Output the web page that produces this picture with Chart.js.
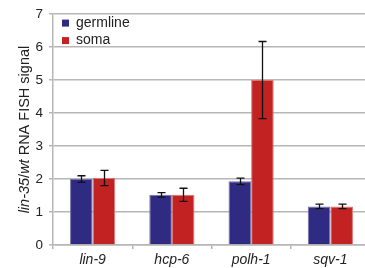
<!DOCTYPE html>
<html>
<head>
<meta charset="utf-8">
<script src="https://cdn.jsdelivr.net/npm/chart.js@4"></script>
<style>
  html, body { margin: 0; padding: 0; background: #fff; overflow: hidden; }
  #wrap { width: 370px; height: 268px; }
</style>
</head>
<body>
<div id="wrap"><canvas id="chart" width="370" height="268"></canvas></div>
<script>
// values
const genes = ['lin-9', 'hcp-6', 'polh-1', 'sqv-1'];
const germline = [2.0, 1.52, 1.93, 1.17];
const germlineErr = [0.1, 0.07, 0.1, 0.07];
const soma = [2.03, 1.52, 5.0, 1.17];
const somaErr = [0.23, 0.2, 1.17, 0.07];
const yTicks = [0, 1, 2, 3, 4, 5, 6, 7];

const BLUE = '#302b82';
const RED = '#c22322';
const GRID = '#b6b6b6';
const FONT = '"Liberation Sans", Arial, sans-serif';

// error bars drawn on top of each bar
const errorBars = {
  id: 'errorBars',
  afterDatasetsDraw(chart) {
    const { ctx } = chart;
    const y = chart.scales.y;
    const errs = [germlineErr, somaErr];
    ctx.save();
    ctx.strokeStyle = '#111';
    ctx.lineWidth = 1.3;
    chart.data.datasets.forEach((ds, di) => {
      chart.getDatasetMeta(di).data.forEach((bar, i) => {
        const v = ds.data[i], e = errs[di][i];
        const top = y.getPixelForValue(v + e);
        const bot = y.getPixelForValue(v - e);
        const x = Math.round(bar.x) + 0.5;
        ctx.beginPath();
        ctx.moveTo(x, top); ctx.lineTo(x, bot);
        ctx.moveTo(x - 4, top); ctx.lineTo(x + 4, top);
        ctx.moveTo(x - 4, bot); ctx.lineTo(x + 4, bot);
        ctx.stroke();
      });
    });
    ctx.restore();
  }
};

// legend inside plot, top-left
const innerLegend = {
  id: 'innerLegend',
  afterDraw(chart) {
    const { ctx, chartArea } = chart;
    ctx.save();
    ctx.font = '14px ' + FONT;
    ctx.textBaseline = 'middle';
    chart.data.datasets.forEach((ds, i) => {
      const cy = chartArea.top + 9 + i * 17.5;
      ctx.fillStyle = ds.backgroundColor;
      ctx.fillRect(chartArea.left + 9, cy - 3.5, 7, 7);
      ctx.fillStyle = '#222';
      ctx.fillText(ds.label, chartArea.left + 23, cy);
    });
    ctx.restore();
  }
};

// y title with mixed italic parts
const yTitle = {
  id: 'yTitle',
  afterDraw(chart) {
    const { ctx, chartArea } = chart;
    const parts = [['lin-35', true], ['/', false], ['wt', true], [' RNA FISH signal', false]];
    const size = 14.5;
    ctx.save();
    ctx.translate(29, (chartArea.top + chartArea.bottom) / 2);
    ctx.rotate(-Math.PI / 2);
    ctx.fillStyle = '#222';
    ctx.textBaseline = 'alphabetic';
    let total = 0;
    parts.forEach(([t, it]) => {
      ctx.font = (it ? 'italic ' : '') + size + 'px ' + FONT;
      total += ctx.measureText(t).width;
    });
    let x = -total / 2;
    parts.forEach(([t, it]) => {
      ctx.font = (it ? 'italic ' : '') + size + 'px ' + FONT;
      ctx.fillText(t, x, 0);
      x += ctx.measureText(t).width;
    });
    ctx.restore();
  }
};

new Chart(document.getElementById('chart'), {
  type: 'bar',
  data: {
    labels: genes,
    datasets: [
      { label: 'germline', data: germline, backgroundColor: BLUE, borderColor: '#7572ad', borderWidth: 1 },
      { label: 'soma', data: soma, backgroundColor: RED, borderColor: '#dc7472', borderWidth: 1 },
    ]
  },
  options: {
    responsive: false,
    animation: false,
    devicePixelRatio: 1,
    layout: { padding: { top: 14, left: 0, right: 0, bottom: 0 } },
    datasets: { bar: { categoryPercentage: 0.57, barPercentage: 1.0 } },
    plugins: { legend: { display: false }, tooltip: { enabled: false } },
    scales: {
      x: {
        grid: { drawOnChartArea: false, color: GRID, tickLength: 4, lineWidth: 1.5 },
        border: { color: GRID, width: 1.5 },
        ticks: { color: '#222', font: { family: FONT, size: 14, style: 'italic' }, padding: 3 },
        afterFit: s => { s.height = 23; }
      },
      y: {
        min: 0, max: 7,
        afterBuildTicks: s => { s.ticks = yTicks.map(v => ({ value: v })); },
        grid: { color: GRID, tickLength: 4, lineWidth: 1.5 },
        border: { color: GRID, width: 1.5 },
        ticks: { color: '#222', font: { family: FONT, size: 13.5 }, padding: 6 },
        afterFit: s => { s.width = 53; }
      }
    }
  },
  plugins: [errorBars, innerLegend, yTitle]
});
</script>
</body>
</html>
